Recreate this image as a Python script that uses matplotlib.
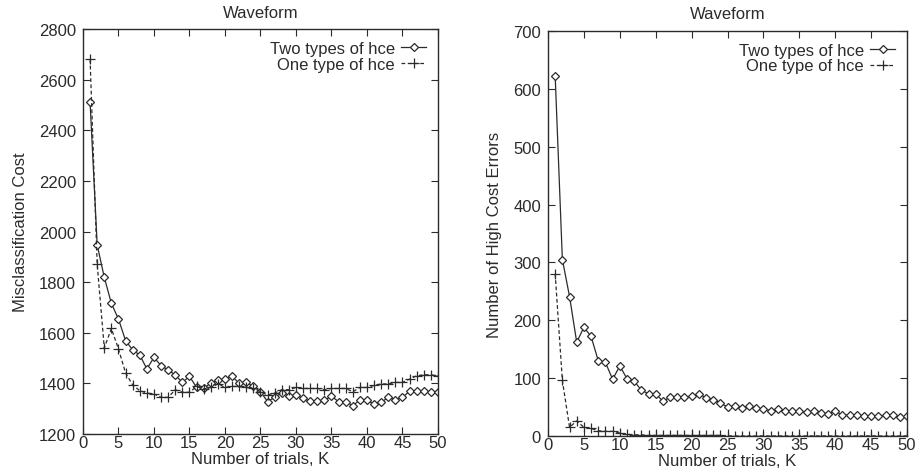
import matplotlib
matplotlib.use("Agg")
import matplotlib.pyplot as plt

plt.rcParams['font.family'] = ['Liberation Sans', 'DejaVu Sans']

trials = list(range(1, 51))

# Misclassification cost
cost_two = [2510, 1947, 1819, 1716, 1654, 1569, 1532, 1512, 1457, 1503,
            1470, 1453, 1433, 1404, 1428, 1384, 1380, 1401, 1414, 1417,
            1428, 1400, 1404, 1388, 1367, 1328, 1345, 1362, 1351, 1354,
            1341, 1329, 1329, 1334, 1349, 1328, 1328, 1312, 1335, 1334,
            1318, 1325, 1345, 1335, 1345, 1369, 1371, 1369, 1365, 1368]
cost_one = [2680, 1870, 1540, 1617, 1536, 1441, 1394, 1371, 1362, 1358,
            1345, 1345, 1375, 1365, 1365, 1388, 1378, 1384, 1398, 1384,
            1388, 1388, 1384, 1380, 1367, 1354, 1362, 1375, 1375, 1384,
            1380, 1380, 1380, 1375, 1380, 1380, 1380, 1367, 1384, 1384,
            1392, 1398, 1398, 1404, 1404, 1417, 1430, 1434, 1434, 1430]

# Number of high cost errors
hce_two = [622, 305, 241, 162, 188, 172, 130, 127, 98, 121,
           99, 95, 79, 73, 73, 60, 67, 67, 67, 69,
           73, 66, 63, 57, 50, 52, 48, 51, 48, 47,
           44, 47, 43, 43, 43, 41, 43, 40, 38, 43,
           36, 36, 37, 34, 34, 34, 36, 36, 32, 34]
hce_one = [280, 96, 15, 26, 15, 13, 9, 8, 8, 5,
           3, 2, 2, 1, 1, 1, 1, 1, 1, 1,
           1, 1, 1, 1, 0, 0, 0, 0, 0, 0,
           0, 0, 0, 0, 0, 0, 0, 0, 0, 0,
           0, 0, 0, 0, 0, 0, 0, 0, 0, 0]

ink = '#2b2b2b'

fig = plt.figure(figsize=(9.19, 4.77), dpi=100)
ax1 = fig.add_axes([0.0903, 0.088, 0.3863, 0.849])
ax2 = fig.add_axes([0.5963, 0.0839, 0.3907, 0.8491])


def draw(ax, two, one, ylim, yticks, ylabel):
    ax.plot(trials, two, color=ink, lw=0.9, marker='D', ms=4,
            mfc='white', mec=ink, mew=0.9, label='Two types of hce')
    ax.plot(trials, one, color=ink, lw=0.9, ls=(0, (3, 2)), marker='+',
            ms=6.5, mew=0.9, label='One type of hce')
    ax.set_xlim(0, 50)
    ax.set_ylim(*ylim)
    ax.set_xticks(range(0, 51, 5))
    ax.set_yticks(yticks)
    ax.tick_params(direction='in', top=True, right=True, length=5,
                   width=0.8, labelsize=12, colors=ink)
    ax.tick_params(axis='x', pad=1)
    ax.tick_params(axis='y', pad=5)
    for s in ax.spines.values():
        s.set_color(ink)
        s.set_linewidth(1.0)
    ax.set_title('Waveform', fontsize=12, color=ink, pad=9)
    ax.set_xlabel('Number of trials, K', fontsize=12, color=ink, labelpad=0.5)
    ax.set_ylabel(ylabel, fontsize=12, color=ink, labelpad=8)
    ax.legend(loc='upper right', frameon=False, markerfirst=False,
              fontsize=12, handlelength=1.5, handletextpad=0.4,
              labelspacing=0.05, borderaxespad=0.3, labelcolor=ink)


draw(ax1, cost_two, cost_one, (1200, 2800), range(1200, 2801, 200),
     'Misclassification Cost')
draw(ax2, hce_two, hce_one, (0, 700), range(0, 701, 100),
     'Number of High Cost Errors')

fig.savefig('out.png', dpi=100)
